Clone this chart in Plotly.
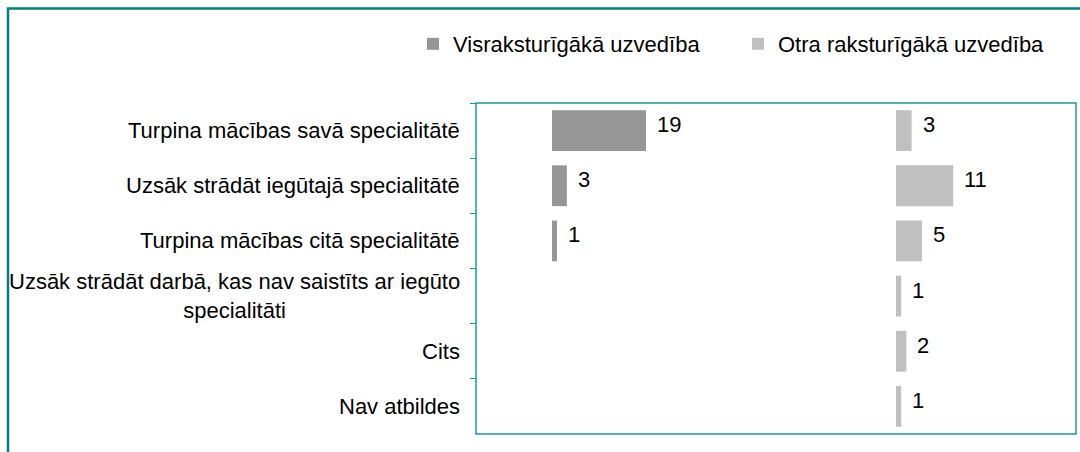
import plotly.graph_objects as go

# Survey answers (rows top to bottom)
categories = [
    "Turpina mācības savā specialitātē",
    "Uzsāk strādāt iegūtajā specialitātē",
    "Turpina mācības citā specialitātē",
    "Uzsāk strādāt darbā, kas nav saistīts ar iegūto<br>specialitāti",
    "Cits",
    "Nav atbildes",
]
series_names = ["Visraksturīgākā uzvedība", "Otra raksturīgākā uzvedība"]
most_typical = [19, 3, 1, None, None, None]
second_typical = [3, 11, 5, 1, 2, 1]

W, H = 1080, 452
FONT = "Liberation Sans, Arial, sans-serif"
FS = 22
TEAL = "#1a9898"
FRAME = "#008080"
DARK = "#969696"
LIGHT = "#c0c0c0"


def px_x(p):
    return p / W


def px_y(p):
    return 1 - p / H


fig = go.Figure()
fig.add_trace(go.Bar(
    y=categories, x=most_typical, orientation="h", name=series_names[0],
    marker=dict(color=DARK, line=dict(width=0)),
    xaxis="x", yaxis="y", legend="legend", hoverinfo="x+y",
))
fig.add_trace(go.Bar(
    y=categories, x=second_typical, orientation="h", name=series_names[1],
    marker=dict(color=LIGHT, line=dict(width=0)),
    xaxis="x2", yaxis="y", legend="legend2", hoverinfo="x+y",
))

annotations = []
# value labels next to the bar ends
for axis, values in (("x", most_typical), ("x2", second_typical)):
    for cat, v in zip(categories, values):
        if v is None:
            continue
        annotations.append(dict(
            x=v, y=cat, xref=axis, yref="y", text=str(v), showarrow=False,
            xanchor="left", yanchor="middle", xshift=9, yshift=6,
            font=dict(family=FONT, size=FS, color="#000000"),
        ))
# category labels, centred line by line
for cat in categories:
    annotations.append(dict(
        x=px_x(462), y=cat, xref="paper", yref="y", text=cat, showarrow=False,
        xanchor="right", yanchor="middle", align="center",
        font=dict(family=FONT, size=FS, color="#000000"),
    ))

fig.update_layout(
    width=W, height=H,
    margin=dict(l=0, r=0, t=0, b=0),
    paper_bgcolor="white", plot_bgcolor="white",
    font=dict(family=FONT, size=FS, color="#000000"),
    barmode="group", bargap=0.26,
    showlegend=True,
    legend=dict(
        x=px_x(413), y=px_y(44), xanchor="left", yanchor="middle",
        orientation="h", bgcolor="rgba(0,0,0,0)", borderwidth=0,
        font=dict(family=FONT, size=FS, color="#000000"),
    ),
    legend2=dict(
        x=px_x(738), y=px_y(44), xanchor="left", yanchor="middle",
        orientation="h", bgcolor="rgba(0,0,0,0)", borderwidth=0,
        font=dict(family=FONT, size=FS, color="#000000"),
    ),
    xaxis=dict(
        domain=[px_x(552), px_x(896)], range=[0, 344 / 4.95],
        visible=False, anchor="y",
    ),
    xaxis2=dict(
        domain=[px_x(896), px_x(1076)], range=[0, 180 / 5.2],
        visible=False, anchor="y",
    ),
    yaxis=dict(
        domain=[px_y(434), px_y(103)], autorange="reversed",
        anchor="free", position=px_x(476),
        type="category", showgrid=False, zeroline=False,
        showline=False, showticklabels=False,
        ticks="outside", tickson="boundaries", ticklen=6,
        tickcolor=TEAL, tickwidth=1,
    ),
    annotations=annotations,
    shapes=[
        # plot area border
        dict(type="rect", xref="paper", yref="paper",
             x0=px_x(476), x1=px_x(1076), y0=px_y(434), y1=px_y(103),
             line=dict(color=TEAL, width=1.5), layer="above"),
        # outer chart frame (top and left edges visible)
        dict(type="rect", xref="paper", yref="paper",
             x0=px_x(8), x1=1.05, y0=-0.05, y1=px_y(8.5),
             line=dict(color=FRAME, width=2.5), layer="above"),
    ],
)

fig.write_html("out.html")
